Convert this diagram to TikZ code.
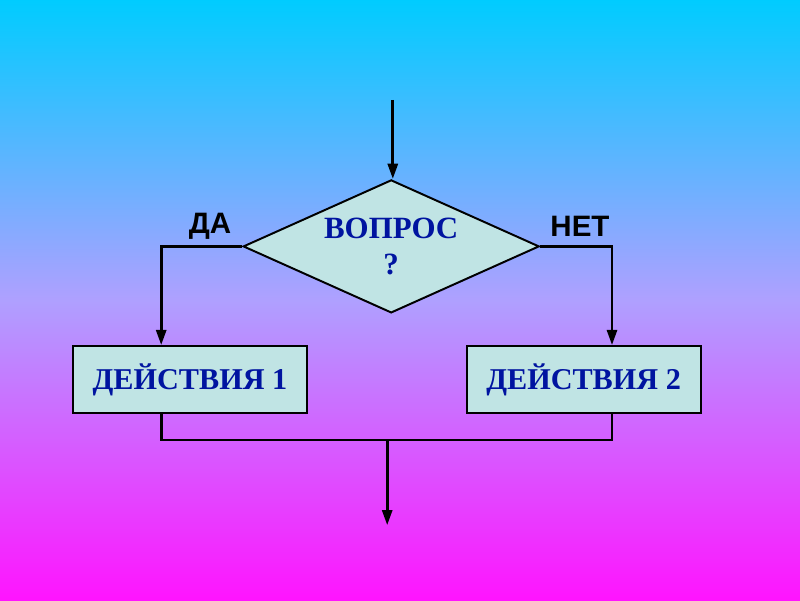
\documentclass[tikz,border=0pt]{standalone}
\usepackage{fontspec}
\setmainfont{Liberation Serif}
\newfontfamily\labelfont{Liberation Sans}
\usepackage{tikz}
\usetikzlibrary{shapes.geometric,arrows.meta,positioning,calc}
\definecolor{skytop}{RGB}{0,204,255}
\definecolor{skymid}{RGB}{175,160,255}
\definecolor{skybottom}{RGB}{255,20,255}
\definecolor{boxfill}{RGB}{192,228,228}
\definecolor{boxtext}{RGB}{0,20,160}

\begin{document}
\begin{tikzpicture}[
    question/.style={diamond, aspect=2.22, draw=black, line width=1.4pt, fill=boxfill, inner sep=0pt,
        minimum width=7.4cm, minimum height=3.325cm, align=center, text=boxtext,
        font=\fontsize{22}{26}\selectfont\bfseries},
    action/.style={rectangle, draw=black, line width=1.4pt, fill=boxfill,
        minimum width=5.85cm, minimum height=1.675cm, text=boxtext,
        font=\fontsize{21.5}{26}\selectfont\bfseries},
    answer/.style={font=\labelfont\fontsize{21}{25}\selectfont\bfseries},
    flow/.style={draw, line width=2pt},
    >={Triangle[length=3.8mm,width=2.5mm]}
]
    \useasboundingbox (0,0) rectangle (20,15);
    \shade[top color=skytop, bottom color=skybottom, middle color=skymid] (0,0) rectangle (20,15);

    \node[question] (ask) at (9.78,8.84) {ВОПРОС\\?};
    \node[action] (act1) at (4.75,5.51) {ДЕЙСТВИЯ 1};
    \node[action] (act2) at (14.59,5.51) {ДЕЙСТВИЯ 2};
    \node[answer] (yes) at (5.25,9.35) {ДА};
    \node[answer] (no) at (14.5,9.35) {НЕТ};

    \coordinate (in) at (9.82,12.5);
    \coordinate (yesturn) at (4.03,8.84);
    \coordinate (noturn) at (15.3,8.84);
    \coordinate (ljoin) at (4.03,4.0);
    \coordinate (rjoin) at (15.3,4.0);
    \coordinate (out) at (9.68,1.87);

    \draw[flow, ->] (in) -- (in |- ask.north);
    \draw[flow, ->] (ask.west) -- (yesturn) -- (yesturn |- act1.north);
    \draw[flow, ->] (ask.east) -- (noturn) -- (noturn |- act2.north);
    \draw[flow] (act1.south -| ljoin) -- (ljoin) -- (rjoin) -- (act2.south -| rjoin);
    \draw[flow, ->] (ljoin -| out) -- (out);
\end{tikzpicture}
\end{document}
